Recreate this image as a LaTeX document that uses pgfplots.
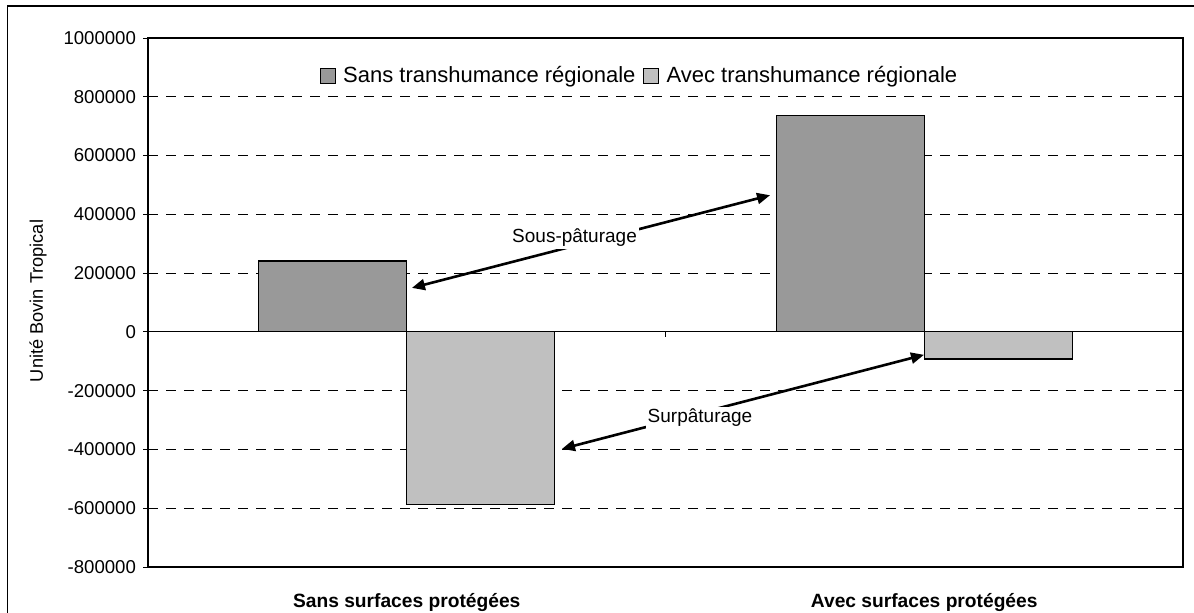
\documentclass[border=0pt]{standalone}
\usepackage{fontspec}
\setmainfont{Liberation Sans}
\usepackage{pgfplots}
\pgfplotsset{compat=1.18}
\usetikzlibrary{arrows.meta}
\definecolor{darkbar}{RGB}{153,153,153}
\definecolor{lightbar}{RGB}{192,192,192}
\begin{document}
\begin{tikzpicture}
\path[use as bounding box] (0,0) rectangle (597pt,306pt);
\draw[line width=0.6pt] (3.6pt,-5pt) -- (3.6pt,303pt) -- (605pt,303pt);
\begin{axis}[
  at={(74pt,22.5pt)}, anchor=south west,
  scale only axis, width=517.5pt, height=264.5pt,
  xmin=-0.5, xmax=1.5, ymin=-800000, ymax=1000000,
  ytick={-800000,-600000,-400000,-200000,0,200000,400000,600000,800000,1000000},
  scaled y ticks=false,
  /pgf/number format/.cd, fixed, 1000 sep={}, assume math mode=true, /pgfplots/.cd,
  ymajorgrids, grid style={black, line width=0.45pt, dash pattern=on 5pt off 4pt},
  ytick pos=left, tick align=outside, major tick length=2.5pt,
  tick style={black, line width=0.5pt},
  yticklabel style={font=\fontsize{9.3}{11}\selectfont},
  xtick={0,1},
  xticklabels={Sans surfaces protégées, Avec surfaces protégées},
  xtick style={draw=none},
  xticklabel style={font=\fontsize{9.6}{11}\bfseries, anchor=base, yshift=-17.5pt},
  axis line style={black, line width=0.7pt},
  legend style={draw=none, fill=white, at={(0.476,0.929)}, anchor=center,
    font=\fontsize{11}{13}\selectfont, inner sep=1pt,
    /tikz/every even column/.append style={column sep=2pt}},
  legend columns=2,
  ybar, bar width=0.286,
]
\addplot[ybar, bar shift=-0.143, fill=darkbar, draw=black, line width=0.6pt,
  legend image code/.code={\draw[fill=darkbar, draw=black, line width=0.5pt] (0pt,-3.75pt) rectangle (7.5pt,3.75pt); \path (9pt,0pt);}]
  coordinates {(0,241500) (1,737000)};
\addlegendentry{Sans transhumance régionale}
\addplot[ybar, bar shift=0.143, fill=lightbar, draw=black, line width=0.6pt,
  legend image code/.code={\draw[fill=lightbar, draw=black, line width=0.5pt] (0pt,-3.75pt) rectangle (7.5pt,3.75pt); \path (9pt,0pt);}]
  coordinates {(0,-588000) (1,-92000)};
\addlegendentry{Avec transhumance régionale}
\draw[black, line width=0.6pt] (axis cs:-0.5,0) -- (axis cs:1.5,0);
\draw[black, line width=0.5pt] (axis cs:0.5,0) -- ([yshift=-2.5pt]axis cs:0.5,0);
\draw[line width=1.3pt, {Triangle[length=6.5pt,width=5.5pt]}-{Triangle[length=6.5pt,width=5.5pt]}]
  (axis cs:0.010,149700) -- (axis cs:0.702,465000);
\node[fill=white, inner sep=1pt, font=\fontsize{9.5}{11}\selectfont] at (axis cs:0.3242,319730) {Sous-pâturage};
\draw[line width=1.3pt, {Triangle[length=6.5pt,width=5.5pt]}-{Triangle[length=6.5pt,width=5.5pt]}]
  (axis cs:0.300,-397960) -- (axis cs:0.9995,-78000);
\node[fill=white, inner sep=1pt, font=\fontsize{9.5}{11}\selectfont] at (axis cs:0.5667,-292520) {Surpâturage};
\end{axis}
\node[rotate=90, font=\fontsize{9.1}{11}\selectfont] at (19pt,155.5pt) {Unité Bovin Tropical};
\end{tikzpicture}
\end{document}
